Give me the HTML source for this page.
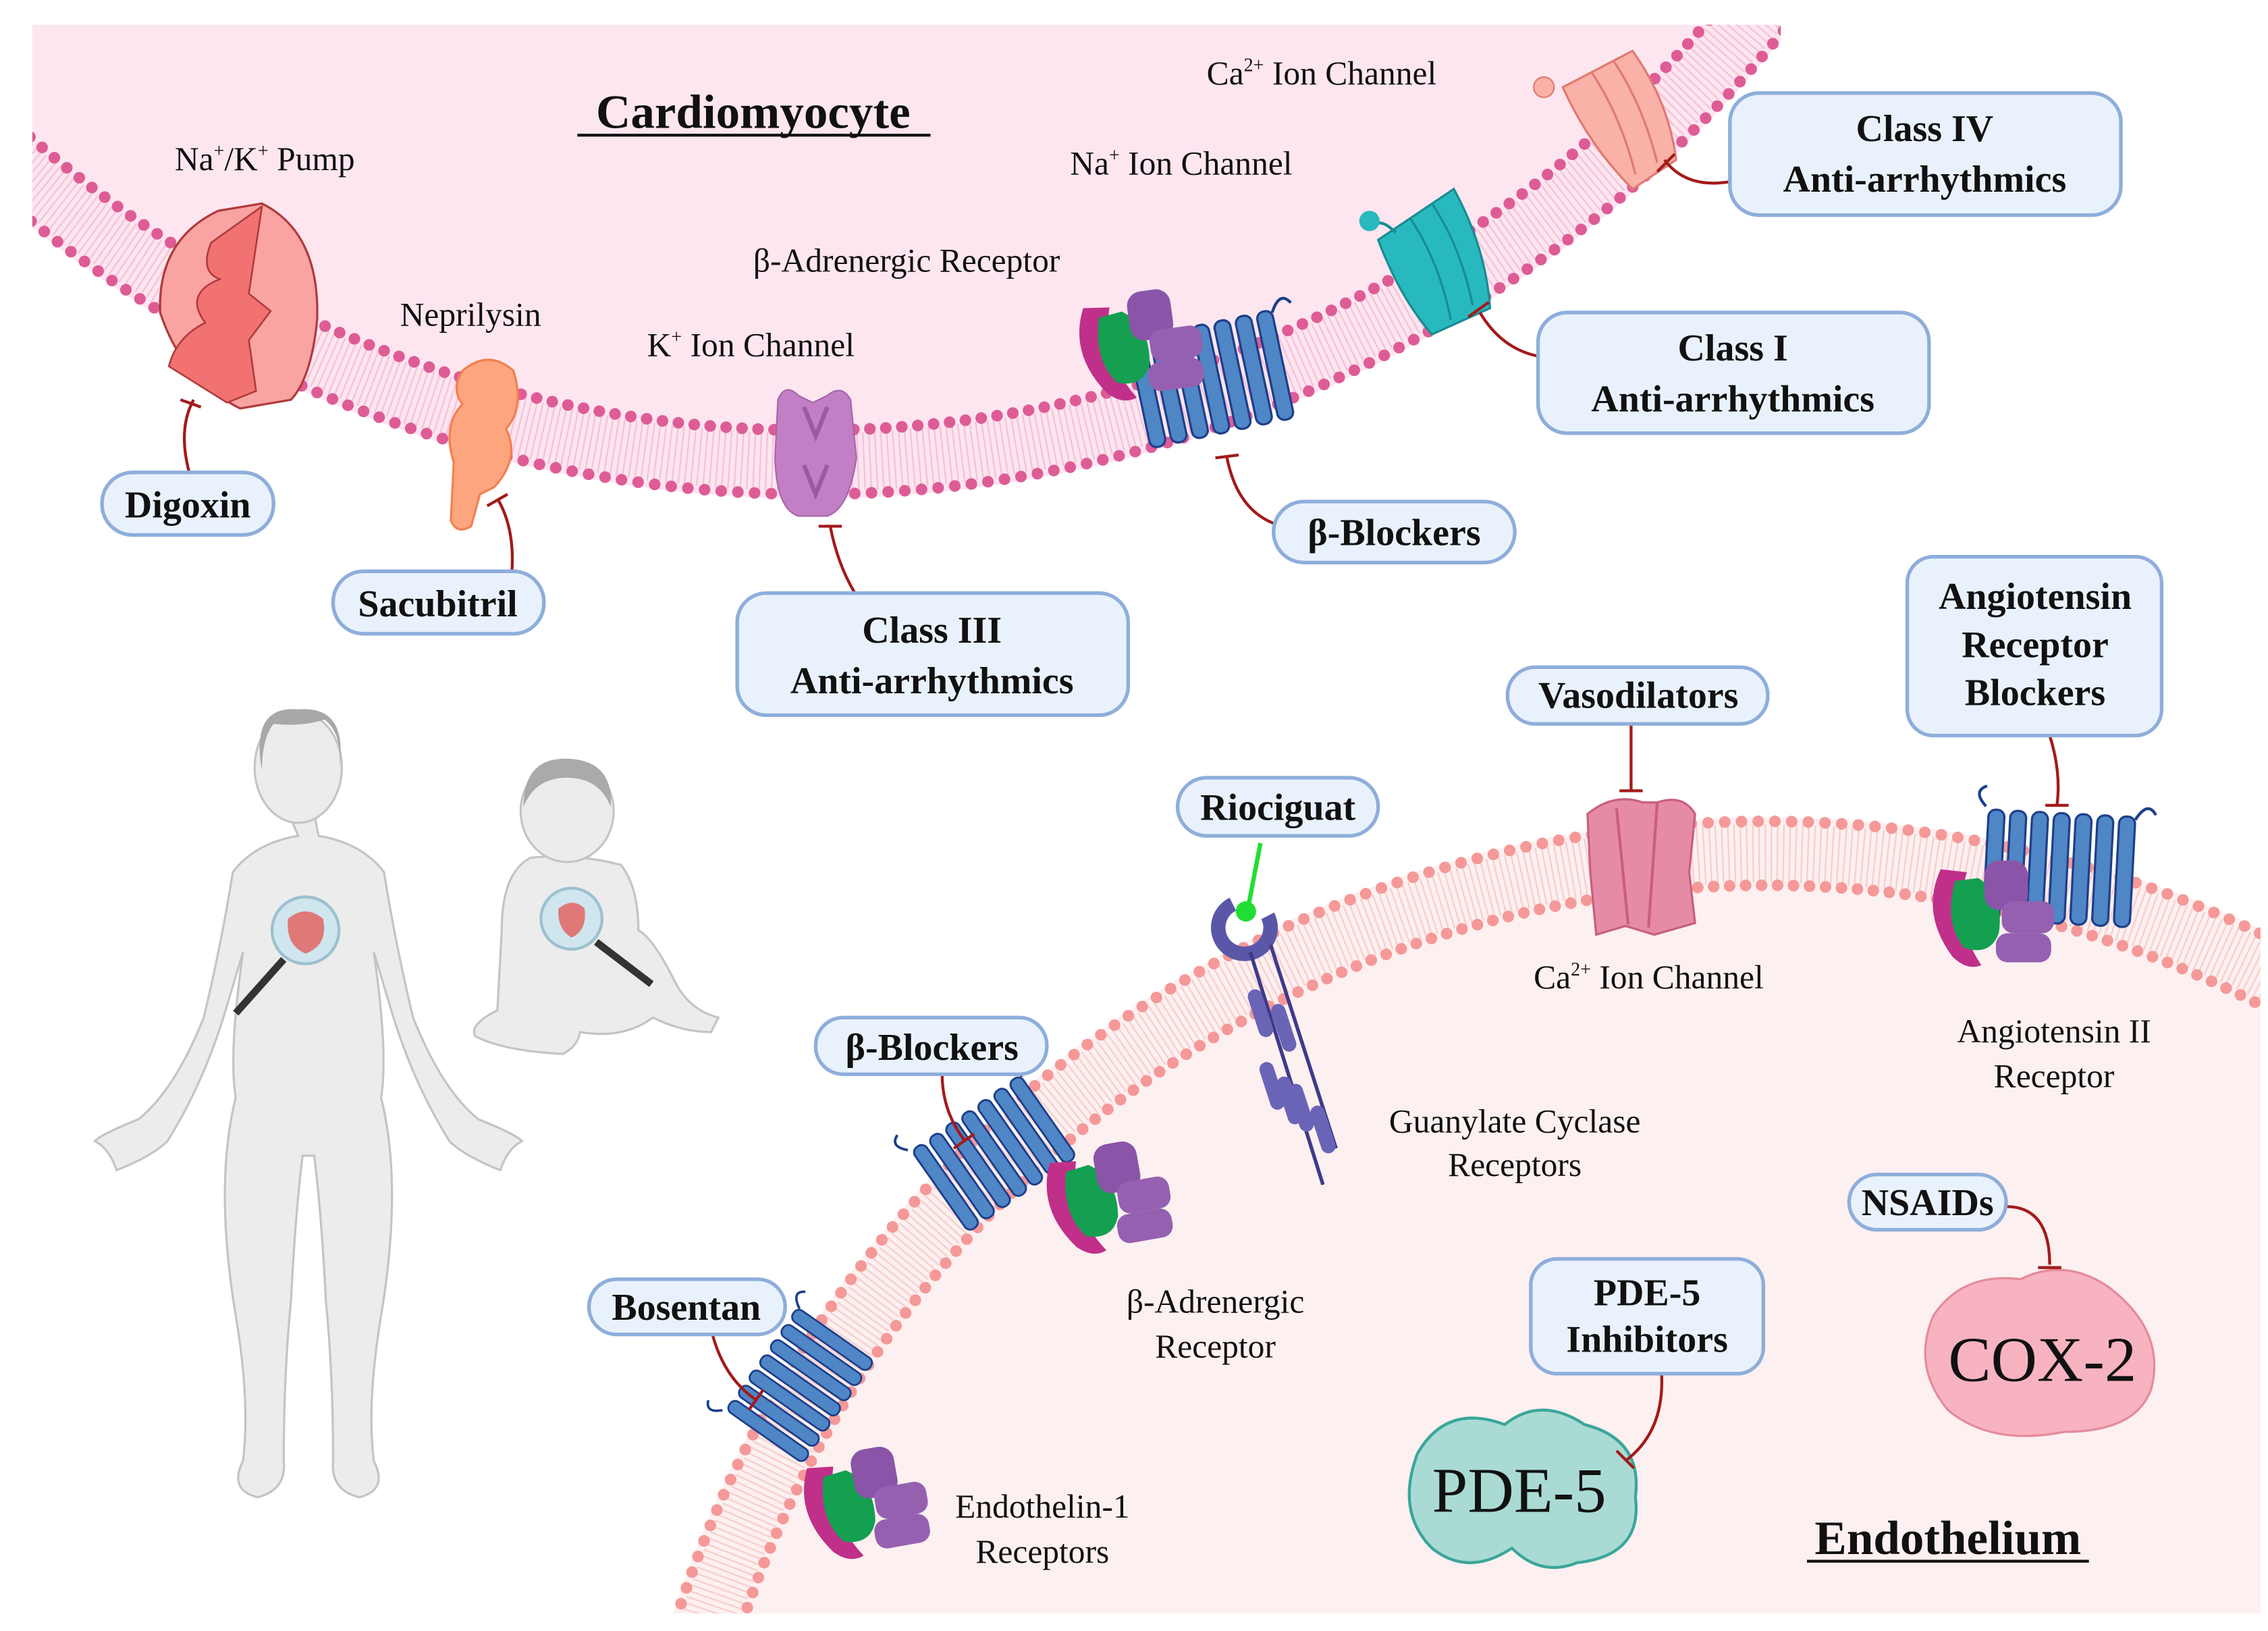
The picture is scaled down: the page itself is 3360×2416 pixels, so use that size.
<!DOCTYPE html>
<html><head><meta charset="utf-8"><style>
html,body{margin:0;padding:0;background:#fff;width:3360px;height:2416px;overflow:hidden}
svg{display:block}
text{font-family:"Liberation Serif",serif;fill:#111}
.b{font-weight:bold;font-size:26px;text-anchor:middle}
.l{font-size:23px}
.bx{fill:#e9f2fc;stroke:#8eaedb;stroke-width:2.5}
.inh{fill:none;stroke:#a31a1a;stroke-width:2}
</style></head><body>
<svg width="3360" height="2416" viewBox="0 0 1560 1122" xmlns="http://www.w3.org/2000/svg">
<defs>
<clipPath id="ct"><rect x="22" y="17" width="1203" height="400"/></clipPath>
<clipPath id="cb"><rect x="460" y="540" width="1095" height="570"/></clipPath>
<g id="gpcr">
 <path d="M-8,-42 q-10,-10 0,-14" fill="none" stroke="#1d3f8a" stroke-width="2"/>
 <rect x="-6" y="-40" width="11" height="76" rx="5" fill="#4f86c6" stroke="#1d3f8a" stroke-width="1.5"/>
 <rect x="9" y="-40" width="11" height="76" rx="5" fill="#4f86c6" stroke="#1d3f8a" stroke-width="1.5"/>
 <rect x="24" y="-40" width="11" height="76" rx="5" fill="#4f86c6" stroke="#1d3f8a" stroke-width="1.5"/>
 <rect x="39" y="-40" width="11" height="76" rx="5" fill="#4f86c6" stroke="#1d3f8a" stroke-width="1.5"/>
 <rect x="54" y="-40" width="11" height="76" rx="5" fill="#4f86c6" stroke="#1d3f8a" stroke-width="1.5"/>
 <rect x="69" y="-40" width="11" height="76" rx="5" fill="#4f86c6" stroke="#1d3f8a" stroke-width="1.5"/>
 <rect x="84" y="-40" width="11" height="76" rx="5" fill="#4f86c6" stroke="#1d3f8a" stroke-width="1.5"/>
 <path d="M95,-38 q8,-14 14,-4" fill="none" stroke="#1d3f8a" stroke-width="2"/>
</g>
<g id="gprot">
 <path d="M0,0 q-14,30 8,60 q10,10 20,6 q-20,-30 -10,-64z" fill="#c0308a"/>
 <path d="M10,8 q-8,28 6,46 q18,6 24,-10 q4,-26 -14,-38z" fill="#14a050"/>
 <rect x="30" y="-6" width="30" height="34" rx="10" fill="#8a55a8"/>
 <rect x="42" y="22" width="36" height="22" rx="8" fill="#9560b0"/>
 <rect x="38" y="44" width="38" height="20" rx="8" fill="#9560b0"/>
</g>
</defs>
<rect width="1560" height="1122" fill="#fff"/>
<g clip-path="url(#ct)">
 <circle cx="558" cy="-521" r="864" fill="#fde6f0"/>
 <circle cx="558" cy="-521" r="839" fill="none" stroke="#f6c4da" stroke-width="40" stroke-dasharray="1.2 3"/>
 <circle cx="558" cy="-521" r="861" fill="none" stroke="#de5c96" stroke-width="8" stroke-dasharray="0 11.5" stroke-linecap="round"/>
 <circle cx="558" cy="-521" r="817" fill="none" stroke="#de5c96" stroke-width="8" stroke-dasharray="0 11" stroke-linecap="round"/>
</g>
<g clip-path="url(#cb)">
 <circle cx="1215" cy="1352" r="790" fill="#fdf0f0"/>
 <circle cx="1215" cy="1352" r="765" fill="none" stroke="#f8d0d0" stroke-width="40" stroke-dasharray="1.2 3"/>
 <circle cx="1215" cy="1352" r="787" fill="none" stroke="#f59898" stroke-width="8" stroke-dasharray="0 11.5" stroke-linecap="round"/>
 <circle cx="1215" cy="1352" r="743" fill="none" stroke="#f59898" stroke-width="8" stroke-dasharray="0 11" stroke-linecap="round"/>
</g>

<text x="518" y="88" style="font-size:33px;font-weight:bold;text-anchor:middle">Cardiomyocyte</text>
<line x1="397" y1="93" x2="640" y2="93" stroke="#111" stroke-width="2"/>
<text x="1340" y="1069" style="font-size:33px;font-weight:bold;text-anchor:middle">Endothelium</text>
<line x1="1243" y1="1074" x2="1437" y2="1074" stroke="#111" stroke-width="2"/>

<text class="l" x="120" y="117">Na<tspan font-size="13" dy="-9">+</tspan><tspan dy="9">/K</tspan><tspan font-size="13" dy="-9">+</tspan><tspan dy="9"> Pump</tspan></text>
<text class="l" x="275" y="224">Neprilysin</text>
<text class="l" x="445" y="245">K<tspan font-size="13" dy="-9">+</tspan><tspan dy="9"> Ion Channel</tspan></text>
<text class="l" x="518" y="187">β-Adrenergic Receptor</text>
<text class="l" x="736" y="120">Na<tspan font-size="13" dy="-9">+</tspan><tspan dy="9"> Ion Channel</tspan></text>
<text class="l" x="830" y="58">Ca<tspan font-size="13" dy="-9">2+</tspan><tspan dy="9"> Ion Channel</tspan></text>

<path d="M110,215 q-2,-50 40,-70 l30,-5 q40,20 38,80 q-4,40 -18,55 l-35,6 q-40,-20 -55,-66z" fill="#f9a3a3" stroke="#b03a3a" stroke-width="1.5"/>
<path d="M180,142 l-35,25 q-8,20 6,25 q-25,10 -10,30 q-20,10 -25,30 l40,25 l20,-8 l-5,-35 l15,-20 l-15,-12z" fill="#f27272" stroke="#b03a3a" stroke-width="1.2"/>
<path d="M318,255 q18,-15 35,0 q8,25 -5,40 q10,20 -8,40 l-10,5 l-6,22 q-10,6 -14,-4 l2,-40 q-8,-25 6,-40 q-8,-10 0,-23z" fill="#fda57e" stroke="#f28050" stroke-width="1.5"/>
<path d="M535,275 q5,-12 14,-3 l10,5 l10,-5 q10,-8 16,3 l4,40 q-5,35 -20,40 l-20,0 q-15,-5 -16,-40z" fill="#c27fc5" stroke="#a665ab" stroke-width="1"/>
<path d="M553,280 l8,20 l8,-20 M553,320 l8,20 l8,-20" fill="none" stroke="#9b5aa0" stroke-width="3"/>
<g transform="translate(790,272) rotate(-12)"><use href="#gpcr"/></g>
<g transform="translate(745,212) rotate(-8)"><use href="#gprot"/></g>
<path d="M948,165 l52,-35 q22,40 25,82 l-40,18 q-22,-25 -37,-65z" fill="#28b9bf" stroke="#178c93" stroke-width="1.5"/>
<path d="M970,150 q20,30 28,70 M985,140 q20,30 28,70" fill="none" stroke="#178c93" stroke-width="1.5"/>
<path d="M960,160 q-10,-10 -15,-5" fill="none" stroke="#178c93" stroke-width="2"/>
<circle cx="942" cy="152" r="7" fill="#28b9bf"/>
<path d="M1075,60 l48,-25 q25,35 30,75 l-30,20 q-30,-30 -48,-70z" fill="#f9b1a8" stroke="#e07a70" stroke-width="1.5"/>
<path d="M1095,50 q20,30 30,70 M1110,42 q20,30 30,70" fill="none" stroke="#e07a70" stroke-width="1.5"/>
<circle cx="1062" cy="60" r="7" fill="#f9b1a8" stroke="#e07a70"/>

<path class="inh" d="M130,325 q-8,-30 3,-50 M124,275 l14,5"/>
<path class="inh" d="M352,393 q2,-30 -10,-50 M335,348 l14,-8"/>
<path class="inh" d="M588,408 q-12,-20 -17,-46 M563,362 l16,0"/>
<path class="inh" d="M876,360 q-25,-10 -32,-45 M836,315 l16,-2"/>
<path class="inh" d="M1058,245 q-25,-5 -40,-30 M1010,218 l14,-10"/>
<path class="inh" d="M1190,125 q-30,5 -45,-15 M1140,118 l12,-12"/>

<rect class="bx" x="70" y="325" width="118" height="43" rx="21"/><text class="b" x="129" y="356">Digoxin</text>
<rect class="bx" x="229" y="393" width="145" height="43" rx="21"/><text class="b" x="301" y="424">Sacubitril</text>
<rect class="bx" x="507" y="408" width="269" height="84" rx="20"/><text class="b" x="641" y="442">Class III</text><text class="b" x="641" y="477">Anti-arrhythmics</text>
<rect class="bx" x="876" y="345" width="166" height="42" rx="21"/><text class="b" x="959" y="375">β-Blockers</text>
<rect class="bx" x="1058" y="215" width="269" height="83" rx="20"/><text class="b" x="1192" y="248">Class I</text><text class="b" x="1192" y="283">Anti-arrhythmics</text>
<rect class="bx" x="1190" y="64" width="269" height="84" rx="20"/><text class="b" x="1324" y="97">Class IV</text><text class="b" x="1324" y="132">Anti-arrhythmics</text>

<text class="l" x="1055" y="680">Ca<tspan font-size="13" dy="-9">2+</tspan><tspan dy="9"> Ion Channel</tspan></text>
<text class="l" x="1413" y="717" text-anchor="middle">Angiotensin II</text>
<text class="l" x="1413" y="748" text-anchor="middle">Receptor</text>
<text class="l" x="1042" y="779" text-anchor="middle">Guanylate Cyclase</text>
<text class="l" x="1042" y="809" text-anchor="middle">Receptors</text>
<text class="l" x="836" y="903" text-anchor="middle">β-Adrenergic</text>
<text class="l" x="836" y="934" text-anchor="middle">Receptor</text>
<text class="l" x="717" y="1044" text-anchor="middle">Endothelin-1</text>
<text class="l" x="717" y="1075" text-anchor="middle">Receptors</text>

<path d="M1092,560 q18,-15 38,-8 l10,0 q18,-6 26,8 l-4,40 l4,35 l-28,8 l-20,-6 l-20,6 l-4,-42z" fill="#e68ba6" stroke="#c85f80" stroke-width="1.5"/>
<path d="M1112,556 l8,80 M1140,552 l-6,86" stroke="#c85f80" stroke-width="2" fill="none"/>
<g transform="translate(1372,597) rotate(3)"><use href="#gpcr"/></g>
<g transform="translate(1335,598)"><use href="#gprot"/></g>
<path d="M848,622 a18,18 0 1 0 24,8" fill="none" stroke="#5b57a8" stroke-width="10"/>
<circle cx="857" cy="627" r="7" fill="#22dd33"/>
<line x1="858" y1="627" x2="867" y2="580" stroke="#22dd33" stroke-width="3"/>
<path d="M860,655 l50,160 M874,650 l45,140" stroke="#3e3a8a" stroke-width="2.5" fill="none"/>
<g fill="#6964b5">
<rect x="862" y="680" width="10" height="34" rx="5" transform="rotate(-18 867 697)"/>
<rect x="878" y="690" width="10" height="34" rx="5" transform="rotate(-18 883 707)"/>
<rect x="890" y="745" width="10" height="34" rx="5" transform="rotate(-18 895 762)"/>
<rect x="905" y="760" width="10" height="34" rx="5" transform="rotate(-18 910 777)"/>
<rect x="870" y="730" width="10" height="34" rx="5" transform="rotate(-18 875 747)"/>
<rect x="882" y="740" width="10" height="34" rx="5" transform="rotate(-18 887 757)"/>
</g>
<g transform="translate(652,818) rotate(-35) scale(0.9)"><use href="#gpcr"/></g>
<g transform="translate(722,800) rotate(-10)"><use href="#gprot"/></g>
<g transform="translate(530,985) rotate(-55) scale(0.85)"><use href="#gpcr"/></g>
<g transform="translate(555,1010) rotate(-10)"><use href="#gprot"/></g>
<path d="M975,1000 q20,-35 60,-20 q25,-20 55,0 q40,10 35,50 q5,40 -40,45 q-25,10 -45,-10 q-30,20 -55,0 q-25,-25 -10,-65z" fill="#a9dbd4" stroke="#3aa69a" stroke-width="2"/>
<text x="1045" y="1040" style="font-size:44px;text-anchor:middle">PDE-5</text>
<path d="M1330,905 q20,-30 60,-25 q30,-15 60,5 q40,30 30,70 q-10,30 -60,30 q-50,10 -80,-15 q-25,-30 -10,-65z" fill="#f8b3c0" stroke="#e58a9c" stroke-width="1.5"/>
<text x="1405" y="950" style="font-size:44px;text-anchor:middle">COX-2</text>

<path class="inh" d="M1122,498 l0,46 M1114,544 l16,0"/>
<path class="inh" d="M1410,506 q8,25 5,48 M1407,554 l16,0"/>
<path class="inh" d="M648,739 q0,25 15,45 M656,790 l14,-10"/>
<path class="inh" d="M490,918 q8,30 30,45 M515,970 l10,-14"/>
<path class="inh" d="M1143,945 q2,40 -25,60 M1112,998 l12,12"/>
<path class="inh" d="M1380,830 q30,0 30,40 M1402,872 l16,0"/>

<rect class="bx" x="1037" y="459" width="179" height="39" rx="19"/><text class="b" x="1127" y="487">Vasodilators</text>
<rect class="bx" x="1312" y="383" width="175" height="123" rx="18"/><text class="b" x="1400" y="419">Angiotensin</text><text class="b" x="1400" y="452">Receptor</text><text class="b" x="1400" y="485">Blockers</text>
<rect class="bx" x="810" y="535" width="138" height="40" rx="20"/><text class="b" x="879" y="564">Riociguat</text>
<rect class="bx" x="561" y="700" width="159" height="39" rx="19"/><text class="b" x="641" y="729">β-Blockers</text>
<rect class="bx" x="405" y="880" width="135" height="38" rx="19"/><text class="b" x="472" y="908">Bosentan</text>
<rect class="bx" x="1272" y="808" width="108" height="38" rx="19"/><text class="b" x="1326" y="836">NSAIDs</text>
<rect class="bx" x="1053" y="866" width="160" height="79" rx="18"/><text class="b" x="1133" y="898">PDE-5</text><text class="b" x="1133" y="930">Inhibitors</text>

<g fill="#ececec" stroke="#c4c4c4" stroke-width="1.5">
<path d="M205,575 q-30,5 -45,25 q-8,50 -20,100 q-20,50 -45,70 q-25,10 -30,15 q10,5 15,20 q25,-10 35,-20 q25,-40 40,-90 l12,-40 q-10,70 -5,100 q-15,60 0,150 q10,60 5,100 q-10,20 10,25 q20,-5 18,-25 q0,-60 5,-110 q3,-60 8,-100 l8,0 q5,40 8,100 q5,50 5,110 q-2,20 18,25 q20,-5 10,-25 q-5,-40 5,-100 q15,-90 0,-150 q5,-30 -5,-100 l12,40 q15,50 40,90 q10,10 35,20 q5,-15 15,-20 q-5,-5 -30,-15 q-25,-20 -45,-70 q-12,-50 -20,-100 q-15,-20 -45,-25 l-5,-25 l-20,0z"/>
<ellipse cx="205" cy="528" rx="30" ry="38"/>
</g>
<path d="M180,530 q-8,-45 25,-42 q35,-3 28,42 q3,-25 -10,-35 q-15,5 -35,3 q-8,10 -8,32z" fill="#a8a8a8"/>
<circle cx="210" cy="640" r="23" fill="#cfe6ef" stroke="#9cc0cf" stroke-width="2"/>
<path d="M198,632 q12,-10 24,0 q4,18 -12,24 q-14,-6 -12,-24z" fill="#e07878"/>
<line x1="195" y1="660" x2="162" y2="697" stroke="#333" stroke-width="5"/>
<g fill="#ececec" stroke="#c4c4c4" stroke-width="1.5">
<path d="M365,590 q-20,10 -20,50 l-3,55 q-20,10 -15,18 q20,10 60,12 q10,-5 12,-15 q30,5 50,-10 q20,10 40,10 l5,-10 q-20,-5 -30,-25 q-15,-30 -25,-35 q0,-30 -12,-45 q-30,-8 -62,-5z"/>
<ellipse cx="390" cy="558" rx="32" ry="35"/>
</g>
<path d="M360,555 q0,-35 32,-33 q30,2 28,33 q-8,-20 -30,-20 q-22,0 -30,20z" fill="#aaa"/>
<circle cx="393" cy="632" r="21" fill="#cfe6ef" stroke="#9cc0cf" stroke-width="2"/>
<path d="M384,625 q10,-8 18,0 q2,15 -9,20 q-10,-6 -9,-20z" fill="#e07878"/>
<line x1="410" y1="648" x2="448" y2="677" stroke="#333" stroke-width="5"/>
</svg>
</body></html>
